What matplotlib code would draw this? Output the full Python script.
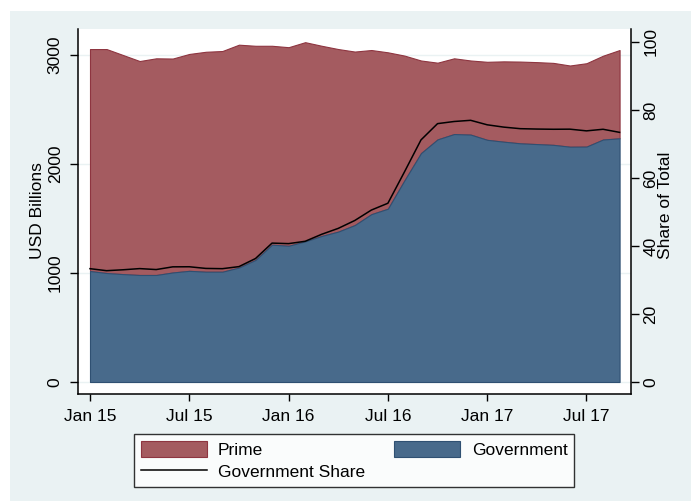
import matplotlib
matplotlib.use("Agg")
import matplotlib.pyplot as plt
from matplotlib.patches import Rectangle, Patch
from matplotlib.lines import Line2D
import numpy as np

plt.rcParams['font.family'] = ['Liberation Sans', 'DejaVu Sans']

# Monthly data, Jan 2015 .. Sep 2017 (USD billions)
months = list(range(33))
government = [1018, 1000, 990, 982, 982, 1005, 1020, 1012, 1012, 1050, 1120,
              1260, 1250, 1290, 1340, 1380, 1440, 1540, 1590, 1850, 2100,
              2226, 2275, 2270, 2222, 2205, 2190, 2183, 2176, 2159, 2160,
              2225, 2236]
prime = [2037, 2055, 2010, 1963, 1988, 1963, 1990, 2018, 2025, 2045, 1965,
         1825, 1822, 1828, 1745, 1675, 1592, 1506, 1435, 1145, 850,
         704, 695, 680, 716, 737, 750, 752, 752, 745, 765,
         769, 810]
tick_months = [0, 6, 12, 18, 24, 30]
tick_labels = ["Jan 15", "Jul 15", "Jan 16", "Jul 16", "Jan 17", "Jul 17"]
left_ticks = [0, 1000, 2000, 3000]
right_ticks = [0, 20, 40, 60, 80, 100]

x = np.array(months)
gov = np.array(government, dtype=float)
prm = np.array(prime, dtype=float)
total = gov + prm
share = gov / total * 100

BG = '#EAF2F3'
PRIME_C = '#A45B60'
PRIME_E = '#8E3540'
GOV_C = '#486A8B'
GOV_E = '#2F5072'

W, H = 691, 501
fig = plt.figure(figsize=(W / 100, H / 100), dpi=100)
fig.patch.set_facecolor('white')
fig.patches.append(Rectangle((10 / W, 0), 1 - 10 / W, 1 - 11 / H,
                             transform=fig.transFigure, facecolor=BG,
                             edgecolor='none', zorder=-10))

L, R, T, B = 78, 631, 29, 394
ax = fig.add_axes([L / W, 1 - B / H, (R - L) / W, (B - T) / H])
ax.set_facecolor('white')

ax.fill_between(x, gov, total, facecolor=PRIME_C, edgecolor=PRIME_E,
                linewidth=0.8, zorder=2)
ax.fill_between(x, 0, gov, facecolor=GOV_C, edgecolor=GOV_E,
                linewidth=0.8, zorder=3)

ax.set_xlim(-0.725, 32.69)
ax.set_ylim(-110, 3239)
ax.set_xticks(tick_months)
ax.set_xticklabels(tick_labels)
ax.set_yticks(left_ticks)
ax.set_yticklabels([str(v) for v in left_ticks])
for v in left_ticks:
    ax.axhline(v, color=BG, linewidth=1.0, zorder=1)

ax.spines['top'].set_visible(False)
ax.spines['right'].set_visible(False)
for s in ['left', 'bottom']:
    ax.spines[s].set_linewidth(1.1)
    ax.spines[s].set_color('black')

ax.tick_params(axis='x', length=5, width=1, pad=6, labelsize=12.5)
ax.tick_params(axis='y', length=6, width=1, pad=5, labelsize=12.5,
               labelrotation=90)
for lab in ax.get_yticklabels():
    lab.set_va('center')

ax2 = ax.twinx()
ax2.plot(x, share, color='black', linewidth=1.1, zorder=5)
ax2.set_ylim(-3.53, 103.8)
ax2.set_yticks(right_ticks)
ax2.set_yticklabels([str(v) for v in right_ticks])
ax2.spines['top'].set_visible(False)
ax2.spines['left'].set_visible(False)
ax2.spines['bottom'].set_visible(False)
ax2.spines['right'].set_linewidth(1.1)
ax2.tick_params(axis='y', length=6, width=1, pad=3, labelsize=12.5,
                labelrotation=90)
for lab in ax2.get_yticklabels():
    lab.set_va('center')
    lab.set_ha('left')

fig.text(38 / W, 1 - 211 / H, 'USD Billions', rotation=90, ha='center',
         va='center', fontsize=12.5)
fig.text(666 / W, 1 - 205 / H, 'Share of Total', rotation=90, ha='center',
         va='center', fontsize=12.5)

handles = [Patch(facecolor=PRIME_C, edgecolor=PRIME_E, linewidth=0.8),
           Line2D([], [], color='black', linewidth=1.1),
           Patch(facecolor=GOV_C, edgecolor=GOV_E, linewidth=0.8)]
labels = ['Prime', 'Government Share', 'Government']
leg = fig.legend(handles, labels, ncol=2, loc='center',
                 bbox_to_anchor=(354 / W, 1 - 460.5 / H),
                 bbox_transform=fig.transFigure, fontsize=12.5,
                 frameon=True, fancybox=False, edgecolor='black',
                 handlelength=3.8, handleheight=1.0, handletextpad=0.65,
                 columnspacing=1.7, labelspacing=0.3, borderpad=0.4)
leg.get_frame().set_linewidth(1.0)
leg.get_frame().set_facecolor('white')

fig.savefig('out.png', dpi=100, facecolor=fig.get_facecolor())
